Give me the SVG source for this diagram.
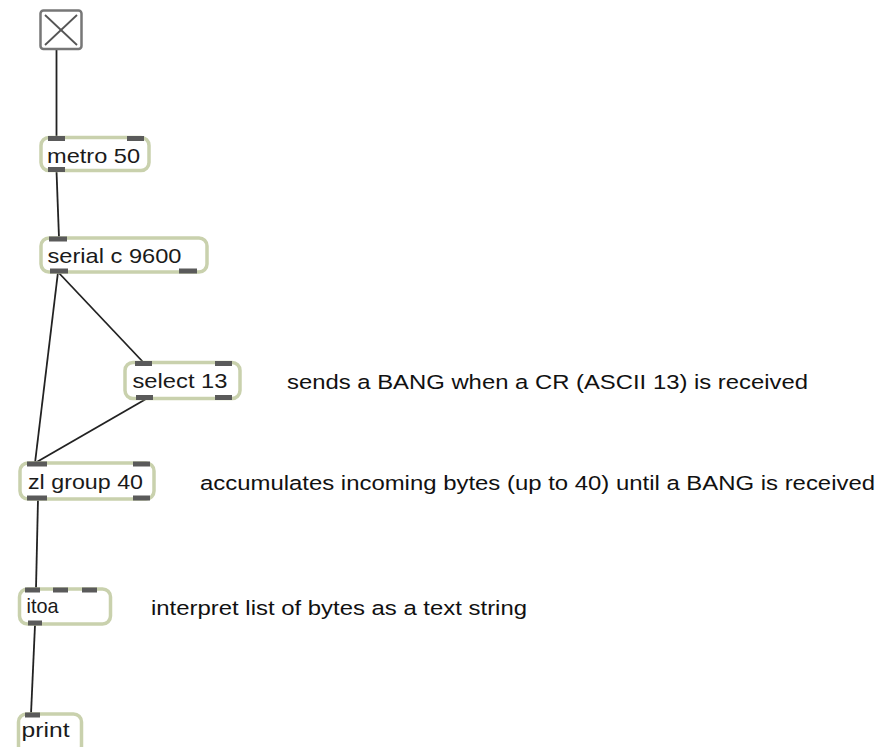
<svg xmlns="http://www.w3.org/2000/svg" width="895" height="747" viewBox="0 0 895 747">
<style>
.box{fill:#fff;stroke:#c9d1ad;stroke-width:3.5}
.port{fill:#5a5a5a}
.t{font-family:"Liberation Sans",Arial,sans-serif;font-size:21px;fill:#1a1a1a}
.c{font-family:"Liberation Sans",Arial,sans-serif;font-size:20.5px;fill:#111}
.wire{stroke:#222;stroke-width:1.8;fill:none}
</style>
<rect width="895" height="747" fill="#fff"/>
<g id="connectors">
<line class="wire" x1="56.5" y1="50" x2="56.5" y2="137"/>
<line class="wire" x1="56.5" y1="171" x2="59" y2="238"/>
<line class="wire" x1="58" y1="272" x2="143" y2="362"/>
<line class="wire" x1="58" y1="272" x2="35" y2="463"/>
<line class="wire" x1="146" y1="399" x2="35" y2="463"/>
<line class="wire" x1="38" y1="499" x2="36" y2="589"/>
<line class="wire" x1="35" y1="625" x2="31" y2="714"/>
</g>
<g id="toggle">
<rect x="40.5" y="10.5" width="41" height="38.5" rx="3" fill="#fff" stroke="#777" stroke-width="2.5"/>
<line x1="45" y1="15" x2="77" y2="45" stroke="#555" stroke-width="1.8"/>
<line x1="77" y1="15" x2="45" y2="45" stroke="#555" stroke-width="1.8"/>
</g>
<g id="metro">
<rect class="box" x="41" y="137.5" width="108" height="33" rx="8"/>
<rect class="port" x="48" y="136" width="17" height="5"/>
<rect class="port" x="127" y="136" width="17" height="5"/>
<rect class="port" x="48" y="167" width="17" height="5"/>
<text class="t" x="47" y="163" textLength="93" lengthAdjust="spacingAndGlyphs">metro 50</text>
</g>
<g id="serial">
<rect class="box" x="41" y="238" width="166" height="34" rx="8"/>
<rect class="port" x="49" y="236.5" width="18" height="5"/>
<rect class="port" x="50" y="268.5" width="18" height="5"/>
<rect class="port" x="179" y="268.5" width="18" height="5"/>
<text class="t" x="47.5" y="263" textLength="134" lengthAdjust="spacingAndGlyphs">serial c 9600</text>
</g>
<g id="select">
<rect class="box" x="125" y="362.5" width="115" height="36" rx="8"/>
<rect class="port" x="135" y="361" width="17" height="5"/>
<rect class="port" x="215" y="361" width="17" height="5"/>
<rect class="port" x="136" y="395" width="17" height="5"/>
<rect class="port" x="215" y="395" width="17" height="5"/>
<text class="t" x="132.5" y="388" textLength="95" lengthAdjust="spacingAndGlyphs">select 13</text>
<text class="c" x="287" y="389" textLength="521" lengthAdjust="spacingAndGlyphs">sends a BANG when a CR (ASCII 13) is received</text>
</g>
<g id="zlgroup">
<rect class="box" x="20" y="463" width="134" height="36" rx="8"/>
<rect class="port" x="27" y="461.5" width="20" height="5"/>
<rect class="port" x="133" y="461.5" width="17" height="5"/>
<rect class="port" x="27" y="495.5" width="20" height="5"/>
<rect class="port" x="133" y="495.5" width="17" height="5"/>
<text class="t" x="28" y="489" textLength="115" lengthAdjust="spacingAndGlyphs">zl group 40</text>
<text class="c" x="200" y="490" textLength="675" lengthAdjust="spacingAndGlyphs">accumulates incoming bytes (up to 40) until a BANG is received</text>
</g>
<g id="itoa">
<rect class="box" x="19.5" y="589" width="91" height="35" rx="8"/>
<rect class="port" x="25" y="587.5" width="15" height="5"/>
<rect class="port" x="53" y="587.5" width="15" height="5"/>
<rect class="port" x="82" y="587.5" width="15" height="5"/>
<rect class="port" x="28" y="620.5" width="14" height="5"/>
<text class="t" x="26.5" y="613" textLength="32" lengthAdjust="spacingAndGlyphs">itoa</text>
<text class="c" x="151" y="615" textLength="376" lengthAdjust="spacingAndGlyphs">interpret list of bytes as a text string</text>
</g>
<g id="print">
<rect class="box" x="18.5" y="714" width="63" height="40" rx="8"/>
<rect class="port" x="25" y="712.5" width="15" height="5"/>
<text class="t" x="21.5" y="737" textLength="48" lengthAdjust="spacingAndGlyphs">print</text>
</g>
</svg>
